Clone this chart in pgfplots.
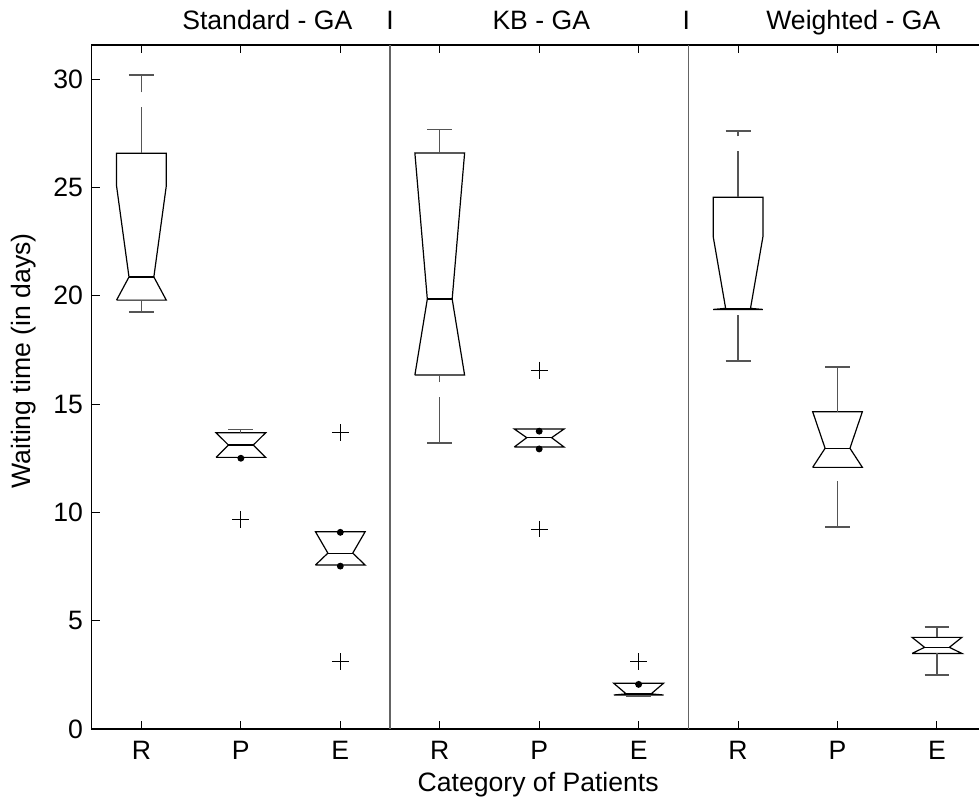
\documentclass[border=0pt]{standalone}
\usepackage{pgfplots}
\pgfplotsset{compat=1.18}
\usepackage{fontspec}
\setmainfont{Liberation Sans}
\newcommand{\lbl}{\fontsize{13.3}{16}\selectfont}
\definecolor{wh}{RGB}{85,85,85}
\definecolor{sep}{RGB}{100,100,100}
\begin{document}
\begin{tikzpicture}
\begin{axis}[
  scale only axis,
  width=447.5pt, height=342pt,
  xmin=0.5, xmax=9.5, ymin=0, ymax=31.58,
  xtick={1,2,3,4,5,6,7,8,9},
  xticklabels={R,P,E,R,P,E,R,P,E},
  ytick={0,5,10,15,20,25,30},
  /pgf/number format/assume math mode=true,
  tick label style={font=\lbl},
  yticklabel style={anchor=east, inner sep=0pt, xshift=-4.2pt},
  xticklabel style={anchor=north, inner sep=0pt, yshift=-5.75pt},
  major tick length=4pt,
  tick style={black, line width=0.5pt},
  axis line style={black, line width=0.6pt},
  clip=false,
  every axis plot/.append style={line width=0.6pt},
]
% separators
\addplot[sep, no marks] coordinates {(3.5,0) (3.5,31.58)};
\addplot[sep, no marks] coordinates {(6.5,0) (6.5,31.58)};
% ---------- notched boxes ----------
\pgfplotsset{bx/.style={black, no marks},
  wk/.style={wh, no marks, dash pattern=on 23pt off 7.5pt},
  cp/.style={wh, no marks},
  ol/.style={black, only marks, mark=+, mark size=4.2pt, mark options={line width=0.5pt}},
  dt/.style={black, only marks, mark=*, mark size=1.4pt}}
% 1 Standard R
\addplot[bx] coordinates {(0.75,19.8)(0.875,20.87)(0.75,25.07)(0.75,26.58)(1.25,26.58)(1.25,25.07)(1.125,20.87)(1.25,19.8)(0.75,19.8)};
\addplot[bx] coordinates {(0.875,20.87)(1.125,20.87)};
\addplot[wk] coordinates {(1,26.58)(1,30.19)};
\addplot[cp] coordinates {(0.875,30.19)(1.125,30.19)};
\addplot[wk] coordinates {(1,19.25)(1,19.8)};
\addplot[cp] coordinates {(0.875,19.25)(1.125,19.25)};
% 2 Standard P
\addplot[bx] coordinates {(1.75,12.54)(1.875,13.11)(1.75,13.68)(2.25,13.68)(2.125,13.11)(2.25,12.54)(1.75,12.54)};
\addplot[bx] coordinates {(1.875,13.11)(2.125,13.11)};
\addplot[wk] coordinates {(2,13.68)(2,13.83)};
\addplot[cp] coordinates {(1.875,13.83)(2.125,13.83)};
\addplot[ol] coordinates {(2,9.68)};
\addplot[dt] coordinates {(2,12.50)};
% 3 Standard E
\addplot[bx] coordinates {(2.75,7.57)(2.875,8.12)(2.75,9.11)(3.25,9.11)(3.125,8.12)(3.25,7.57)(2.75,7.57)};
\addplot[bx] coordinates {(2.875,8.12)(3.125,8.12)};
\addplot[ol] coordinates {(3,13.68)(3,3.11)};
\addplot[dt] coordinates {(3,9.08)(3,7.52)};
% 4 KB R
\addplot[bx] coordinates {(3.75,16.34)(3.875,19.85)(3.75,26.59)(4.25,26.59)(4.125,19.85)(4.25,16.34)(3.75,16.34)};
\addplot[bx] coordinates {(3.875,19.85)(4.125,19.85)};
\addplot[wk] coordinates {(4,26.59)(4,27.69)};
\addplot[cp] coordinates {(3.875,27.69)(4.125,27.69)};
\addplot[wk] coordinates {(4,13.2)(4,16.34)};
\addplot[cp] coordinates {(3.875,13.2)(4.125,13.2)};
% 5 KB P
\addplot[bx] coordinates {(4.75,13.02)(4.875,13.45)(4.75,13.85)(5.25,13.85)(5.125,13.45)(5.25,13.02)(4.75,13.02)};
\addplot[bx] coordinates {(4.875,13.45)(5.125,13.45)};
\addplot[ol] coordinates {(5,16.57)(5,9.23)};
\addplot[dt] coordinates {(5,13.75)(5,12.93)};
% 6 KB E
\addplot[bx] coordinates {(5.75,1.57)(5.875,1.62)(5.75,2.11)(6.25,2.11)(6.125,1.62)(6.25,1.57)(5.75,1.57)};
\addplot[bx] coordinates {(5.875,1.62)(6.125,1.62)};
\addplot[wk] coordinates {(6,1.49)(6,1.57)};
\addplot[cp] coordinates {(5.875,1.49)(6.125,1.49)};
\addplot[ol] coordinates {(6,3.11)};
\addplot[dt] coordinates {(6,2.06)};
% 7 Weighted R
\addplot[bx] coordinates {(6.75,19.37)(6.875,19.42)(6.75,22.73)(6.75,24.55)(7.25,24.55)(7.25,22.73)(7.125,19.42)(7.25,19.37)(6.75,19.37)};
\addplot[bx] coordinates {(6.875,19.42)(7.125,19.42)};
\addplot[wk] coordinates {(7,24.55)(7,27.61)};
\addplot[cp] coordinates {(6.875,27.61)(7.125,27.61)};
\addplot[wk] coordinates {(7,16.99)(7,19.37)};
\addplot[cp] coordinates {(6.875,16.99)(7.125,16.99)};
% 8 Weighted P
\addplot[bx] coordinates {(7.75,12.08)(7.875,12.96)(7.75,14.65)(8.25,14.65)(8.125,12.96)(8.25,12.08)(7.75,12.08)};
\addplot[bx] coordinates {(7.875,12.96)(8.125,12.96)};
\addplot[wk] coordinates {(8,14.65)(8,16.71)};
\addplot[cp] coordinates {(7.875,16.71)(8.125,16.71)};
\addplot[wk] coordinates {(8,9.33)(8,12.08)};
\addplot[cp] coordinates {(7.875,9.33)(8.125,9.33)};
% 9 Weighted E
\addplot[bx] coordinates {(8.75,3.49)(8.875,3.77)(8.75,4.23)(9.25,4.23)(9.125,3.77)(9.25,3.49)(8.75,3.49)};
\addplot[bx] coordinates {(8.875,3.77)(9.125,3.77)};
\addplot[wk] coordinates {(9,4.23)(9,4.71)};
\addplot[cp] coordinates {(8.875,4.71)(9.125,4.71)};
\addplot[wk] coordinates {(9,2.49)(9,3.49)};
\addplot[cp] coordinates {(8.875,2.49)(9.125,2.49)};
% titles
\node[anchor=base, font=\lbl, yshift=7.5pt] at (axis cs:2.266,31.58) {Standard - GA};
\node[anchor=base, font=\lbl, yshift=7.5pt] at (axis cs:3.5,31.58) {I};
\node[anchor=base, font=\lbl, yshift=7.5pt] at (axis cs:5.021,31.58) {KB - GA};
\node[anchor=base, font=\lbl, yshift=7.5pt] at (axis cs:6.48,31.58) {I};
\node[anchor=base, font=\lbl, yshift=7.5pt] at (axis cs:8.159,31.58) {Weighted - GA};
% axis labels
\node[anchor=base, font=\lbl, yshift=-31pt] at (axis cs:4.99,0) {Category of Patients};
\node[anchor=base, font=\lbl, rotate=90] at ([xshift=-30.35pt]axis cs:0.5,17.0) {Waiting time (in days)};
\end{axis}
\pgfresetboundingbox
\path[use as bounding box] (-45.85pt,-36.5pt) rectangle (443.65pt,364.5pt);
\end{tikzpicture}
\end{document}
